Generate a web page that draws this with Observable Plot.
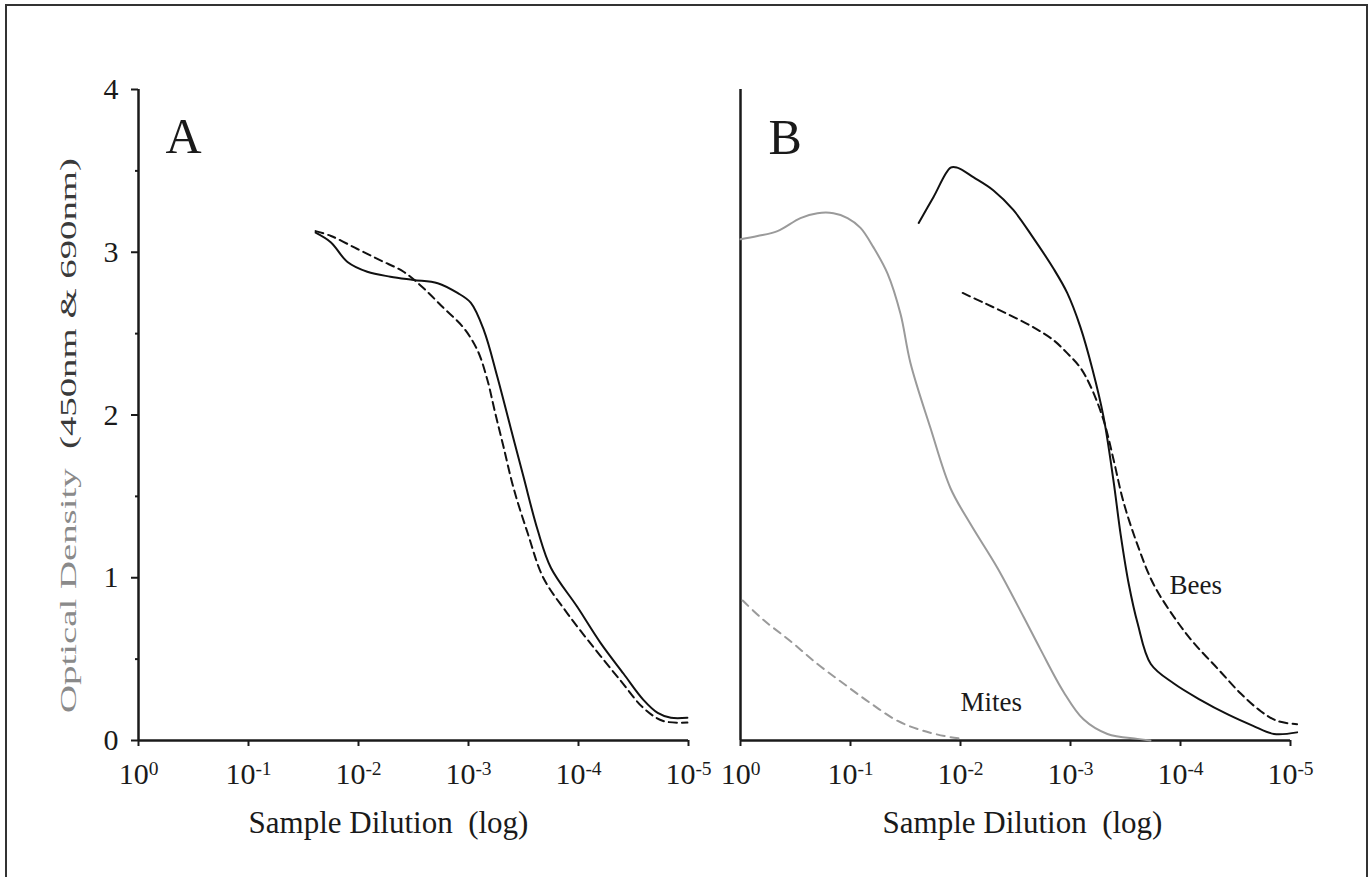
<!DOCTYPE html>
<html>
<head>
<meta charset="utf-8">
<script src="https://cdn.jsdelivr.net/npm/d3@7"></script>
<script src="https://cdn.jsdelivr.net/npm/@observablehq/plot@0.6"></script>
<style>
  html, body { margin: 0; padding: 0; background: #fff; overflow: hidden; }
  #wrap { position: relative; width: 1371px; height: 877px; }
  #frame { position: absolute; left: 5px; top: 4px; width: 1359px; height: 900px; border: 2px solid #333; border-bottom: none; }
  #pa { position: absolute; left: 0; top: 0; }
  #pb { position: absolute; left: 700px; top: 0; }
  svg text { white-space: pre; }
</style>
</head>
<body>
<div id="wrap"><div id="frame"></div><div id="pa"></div><div id="pb"></div></div>
<script>
// ---- tick values (x = log10 of sample dilution) ----
const xTicks = [0, -1, -2, -3, -4, -5];
const yTicks = [0, 1, 2, 3, 4];
const yMinorTicks = [0.5, 1.5, 2.5, 3.5];

// ---- Panel A ----
const aSolidLogDil = [-1.61, -1.75, -1.90, -2.08, -2.29, -2.50, -2.72, -2.90, -3.02, -3.14, -3.26, -3.38, -3.50, -3.63, -3.75, -3.99, -4.20, -4.41, -4.59, -4.72, -4.84, -4.99];
const aSolidOD     = [3.12, 3.06, 2.94, 2.88, 2.85, 2.83, 2.81, 2.75, 2.69, 2.52, 2.24, 1.93, 1.62, 1.29, 1.06, 0.82, 0.60, 0.41, 0.25, 0.17, 0.14, 0.14];
const aDashLogDil  = [-1.61, -1.75, -1.99, -2.20, -2.41, -2.59, -2.77, -2.95, -3.08, -3.17, -3.24, -3.32, -3.41, -3.54, -3.68, -3.90, -4.14, -4.38, -4.59, -4.77, -4.99];
const aDashOD      = [3.13, 3.10, 3.02, 2.95, 2.88, 2.78, 2.66, 2.54, 2.40, 2.22, 2.02, 1.80, 1.55, 1.27, 1.00, 0.78, 0.57, 0.37, 0.20, 0.12, 0.11];

// ---- Panel B ----
const mitesSolidLogDil = [0, -0.155, -0.336, -0.545, -0.70, -0.845, -0.973, -1.091, -1.209, -1.336, -1.455, -1.545, -1.727, -1.909, -2.091, -2.336, -2.573, -2.727, -2.936, -3.118, -3.336, -3.609, -3.727];
const mitesSolidOD     = [3.08, 3.10, 3.13, 3.21, 3.24, 3.24, 3.21, 3.15, 3.03, 2.87, 2.62, 2.32, 1.92, 1.55, 1.33, 1.06, 0.76, 0.56, 0.30, 0.13, 0.04, 0.01, 0.0];
const mitesDashLogDil  = [-0.02, -0.21, -0.455, -0.70, -0.936, -1.18, -1.43, -1.66, -1.91, -2.03];
const mitesDashOD      = [0.86, 0.74, 0.61, 0.47, 0.35, 0.23, 0.12, 0.06, 0.02, 0.01];
const beesSolidLogDil  = [-1.62, -1.755, -1.91, -1.97, -2.12, -2.30, -2.48, -2.66, -2.845, -2.97, -3.09, -3.20, -3.30, -3.39, -3.455, -3.53, -3.61, -3.73, -3.94, -4.18, -4.43, -4.66, -4.85, -5.06];
const beesSolidOD      = [3.18, 3.34, 3.52, 3.52, 3.46, 3.38, 3.26, 3.09, 2.90, 2.75, 2.54, 2.28, 1.99, 1.60, 1.27, 0.96, 0.72, 0.47, 0.35, 0.25, 0.16, 0.09, 0.04, 0.05];
const beesDashLogDil   = [-2.02, -2.21, -2.43, -2.66, -2.845, -2.97, -3.09, -3.18, -3.30, -3.39, -3.48, -3.61, -3.755, -3.94, -4.12, -4.34, -4.545, -4.73, -4.88, -5.06];
const beesDashOD       = [2.75, 2.69, 2.62, 2.54, 2.46, 2.38, 2.29, 2.18, 1.97, 1.73, 1.47, 1.20, 0.96, 0.76, 0.60, 0.44, 0.29, 0.18, 0.12, 0.10];

// curve labels (data coordinates)
const seriesLabels = [
  {logDil: -3.9, od: 0.90, text: "Bees"},
  {logDil: -2.0, od: 0.18, text: "Mites"}
];

const rows = (xs, ys) => xs.map((x, i) => ({x, y: ys[i]}));

const FONT = "'Liberation Serif', 'Times New Roman', Times, serif";
const INK = "#1a1a1a";
const TICK_FONT = "30px";

function xAxis() {
  return Plot.axisX({ticks: xTicks, tickFormat: d => "10^" + d, tickSize: 6, tickPadding: 16,
                     strokeWidth: 2, label: null});
}

const plotA = Plot.plot({
  width: 700, height: 877,
  marginLeft: 138, marginRight: 12, marginTop: 89, marginBottom: 137,
  style: {fontFamily: FONT, fontSize: TICK_FONT, color: INK, background: "transparent", overflow: "visible"},
  x: {domain: [0, -5]},
  y: {domain: [0, 4]},
  marks: [
    xAxis(),
    Plot.axisY({ticks: yTicks, tickFormat: d => String(d), tickSize: 7, tickPadding: 13, strokeWidth: 2, label: null}),
    Plot.axisY({ticks: yMinorTicks, tickSize: 3, strokeWidth: 2, tickFormat: () => "", label: null}),
    Plot.ruleY([0], {stroke: INK, strokeWidth: 2.5}),
    Plot.ruleX([0], {y1: 0, y2: 4, stroke: INK, strokeWidth: 2.5}),
    Plot.line(rows(aSolidLogDil, aSolidOD), {x: "x", y: "y", stroke: "#111", strokeWidth: 2, curve: "catmull-rom"}),
    Plot.line(rows(aDashLogDil, aDashOD), {x: "x", y: "y", stroke: "#111", strokeWidth: 2, strokeDasharray: "8,5", curve: "catmull-rom"}),
    Plot.text(["A"], {text: d => d, frameAnchor: "top-left", dx: 27, dy: 63, lineAnchor: "bottom", textAnchor: "start", fontSize: 50, fill: INK}),
    Plot.text(["Optical Density (450nm & 690nm)"], {text: d => d, frameAnchor: "left", rotate: -90, dx: -63, dy: 298, lineAnchor: "bottom", textAnchor: "start", fontSize: 23, fill: INK}),
    Plot.text(["Sample Dilution  (log)"], {text: d => d, frameAnchor: "bottom", dx: -25, dy: 92, lineAnchor: "bottom", fontSize: 31, fill: INK})
  ]
});

const plotB = Plot.plot({
  width: 671, height: 877,
  marginLeft: 40, marginRight: 81, marginTop: 89, marginBottom: 137,
  style: {fontFamily: FONT, fontSize: TICK_FONT, color: INK, background: "transparent", overflow: "visible"},
  x: {domain: [0, -5]},
  y: {domain: [0, 4], axis: null},
  marks: [
    xAxis(),
    Plot.ruleY([0], {stroke: INK, strokeWidth: 2.5}),
    Plot.ruleX([0], {y1: 0, y2: 4, stroke: INK, strokeWidth: 2.5}),
    Plot.line(rows(mitesSolidLogDil, mitesSolidOD), {x: "x", y: "y", stroke: "#9a9a9a", strokeWidth: 2, curve: "catmull-rom"}),
    Plot.line(rows(mitesDashLogDil, mitesDashOD), {x: "x", y: "y", stroke: "#9a9a9a", strokeWidth: 2, strokeDasharray: "8,6", curve: "catmull-rom"}),
    Plot.line(rows(beesSolidLogDil, beesSolidOD), {x: "x", y: "y", stroke: "#111", strokeWidth: 2, curve: "catmull-rom"}),
    Plot.line(rows(beesDashLogDil, beesDashOD), {x: "x", y: "y", stroke: "#111", strokeWidth: 2, strokeDasharray: "8,5", curve: "catmull-rom"}),
    Plot.text(seriesLabels, {x: "logDil", y: "od", text: "text", textAnchor: "start", lineAnchor: "bottom", fontSize: 27, fill: INK}),
    Plot.text(["B"], {text: d => d, frameAnchor: "top-left", dx: 28, dy: 64, lineAnchor: "bottom", textAnchor: "start", fontSize: 50, fill: INK}),
    Plot.text(["Sample Dilution  (log)"], {text: d => d, frameAnchor: "bottom", dx: 7, dy: 92, lineAnchor: "bottom", fontSize: 31, fill: INK})
  ]
});

const SVGNS = "http://www.w3.org/2000/svg";
function fixTicks(svg) {
  svg.querySelectorAll('g[aria-label$="tick label"]').forEach(g => {
    g.setAttribute("font-size", TICK_FONT);
    g.style.fontSize = TICK_FONT;
  });
  svg.querySelectorAll("text").forEach(t => {
    const m = t.textContent.match(/^10\^(.*)$/);
    if (!m) return;
    t.textContent = "10";
    const ts = document.createElementNS(SVGNS, "tspan");
    ts.setAttribute("dy", "-0.45em");
    ts.setAttribute("font-size", "0.65em");
    ts.textContent = m[1];
    t.appendChild(ts);
  });
}
fixTicks(plotA);
fixTicks(plotB);

// two-tone, stretched y-axis title
const lab = [...plotA.querySelectorAll("text")].find(t => t.textContent.startsWith("Optical"));
if (lab) {
  lab.textContent = "";
  const t1 = document.createElementNS(SVGNS, "tspan");
  t1.setAttribute("fill", "#8a8a8a");
  t1.textContent = "Optical Density  ";
  const t2 = document.createElementNS(SVGNS, "tspan");
  t2.setAttribute("fill", "#3a3a3a");
  t2.textContent = "(450nm & 690nm)";
  lab.appendChild(t1);
  lab.appendChild(t2);
  lab.setAttribute("textLength", "555");
  lab.setAttribute("lengthAdjust", "spacingAndGlyphs");
}

document.getElementById("pa").appendChild(plotA);
document.getElementById("pb").appendChild(plotB);
</script>
</body>
</html>
